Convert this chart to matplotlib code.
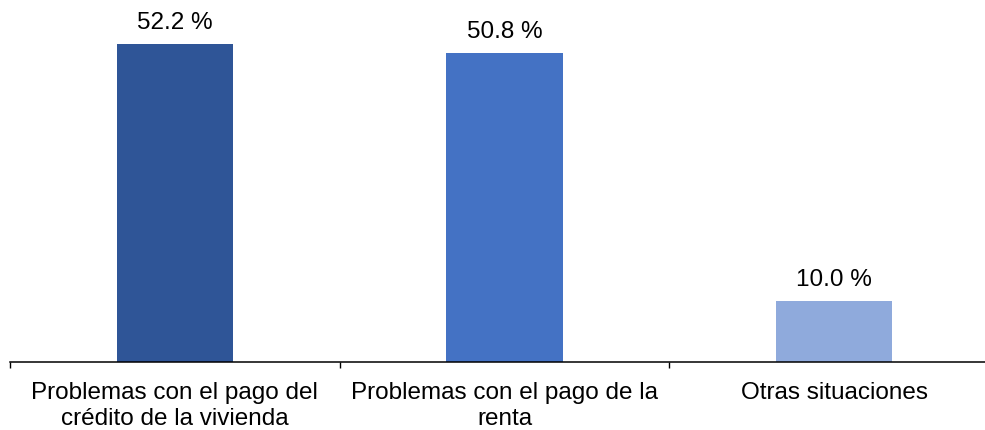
import matplotlib.pyplot as plt
from matplotlib.ticker import FixedLocator

plt.rcParams["font.family"] = ["Liberation Sans", "DejaVu Sans"]

# Data
categories = ["Problemas con el pago del\ncrédito de la vivienda",
              "Problemas con el pago de la\nrenta",
              "Otras situaciones"]
values = [52.2, 50.8, 10.0]
colors = ["#2F5597", "#4472C4", "#8FAADC"]

fig = plt.figure(figsize=(9.85, 4.31), dpi=100)
ax = fig.add_axes([10 / 985, (431 - 363) / 431, 975 / 985, 363 / 431])

x = range(len(categories))
bars = ax.bar(x, values, width=0.352, color=colors)

for b, v in zip(bars, values):
    ax.annotate(f"{v:.1f} %", (b.get_x() + b.get_width() / 2, v),
                xytext=(0, 8), textcoords="offset points",
                ha="center", va="bottom", fontsize=17.5)

ax.set_xlim(-0.5, 2.5 - 14 / 330)
ax.set_ylim(0, 363 / 6.09)

# boundary ticks between categories, labels centred on the bars
ax.xaxis.set_major_locator(FixedLocator([-0.5, 0.5, 1.5]))
ax.xaxis.set_major_formatter(plt.NullFormatter())
ax.xaxis.set_minor_locator(FixedLocator(list(x)))
ax.set_xticklabels(categories, minor=True, fontsize=17.5, linespacing=1.22)
ax.tick_params(axis="x", which="major", direction="out", length=4.5, width=1)
ax.tick_params(axis="x", which="minor", length=0, pad=14)

ax.set_yticks([])
for s in ["left", "right", "top"]:
    ax.spines[s].set_visible(False)
ax.spines["bottom"].set_linewidth(1.1)

fig.savefig("out.png", dpi=100)
